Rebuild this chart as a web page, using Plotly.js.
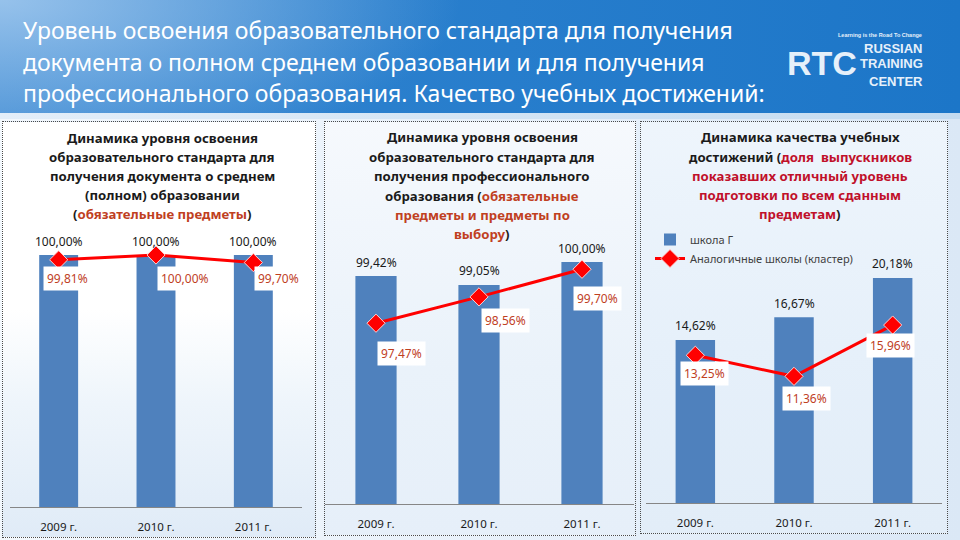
<!DOCTYPE html>
<html><head><meta charset="utf-8">
<script src="https://cdn.plot.ly/plotly-3.0.1.min.js"></script>
<style>
html,body{margin:0;padding:0;width:960px;height:540px;overflow:hidden;}
body{position:relative;background:linear-gradient(90deg,#f3f8fd 0%,#e7f0fa 60%,#dbe8f6 100%);}
#hdr{position:absolute;left:0;top:0;width:960px;height:113px;
 background:radial-gradient(ellipse 460px 170px at 0% 0%, rgba(160,200,238,0.9), rgba(160,200,238,0) 100%),
 linear-gradient(90deg,#3c89d2 0%,#2a7fcd 40%,#1c76c8 100%);}
#strip{position:absolute;left:0;top:113px;width:960px;height:6px;background:linear-gradient(90deg,#e3eef9,#c4dbf0);}
.panel{position:absolute;border:1px dotted #4a4a4a;box-sizing:border-box;}
#p1{left:2px;top:121px;width:314px;height:417px;background:linear-gradient(180deg,#ffffff 0%,#ffffff 45%,#eef5fb 68%,#e0ebf7 100%);}
#p2{left:324px;top:121px;width:312px;height:415px;background:linear-gradient(180deg,#f6f9fd 0%,#eaf2fa 60%,#e6eff9 100%);}
#p3{left:640px;top:121px;width:308px;height:413px;background:linear-gradient(180deg,#eef5fc 0%,#e6f0fa 55%,#e2edf8 100%);}
#chart{position:absolute;left:0;top:0;width:960px;height:540px;}
</style></head>
<body>
<div id="hdr"></div><div id="strip"></div>
<div class="panel" id="p1"></div><div class="panel" id="p2"></div><div class="panel" id="p3"></div>
<div id="chart"></div>
<script>
// ---- data ----
const years = ['2009 г.', '2010 г.', '2011 г.'];
const p1School = [100.00, 100.00, 100.00];
const p1Cluster = [99.81, 100.00, 99.70];
const p2School = [99.42, 99.05, 100.00];
const p2Cluster = [97.47, 98.56, 99.70];
const p3School = [14.62, 16.67, 20.18];
const p3Cluster = [13.25, 11.36, 15.96];
const seriesNames = ['школа Г', 'Аналогичные школы (кластер)'];
const headerLines = [
  'Уровень освоения образовательного стандарта для получения',
  'документа о полном среднем образовании и для получения',
  'профессионального образования. Качество учебных достижений:'
];

// ---- styles ----
const FONT = 'Noto Sans, DejaVu Sans, sans-serif';
const BAR = '#4f81bd';
const LINE = '#ff0000';
const RED1 = '#c0401f';
const RED3 = '#c0102a';
const fmt = v => v.toFixed(2).replace('.', ',') + '%';
const W = 960, H = 540;
const px = v => v / W, py = v => 1 - v / H;

const panels = [
  {school: p1School, cluster: p1Cluster, x0: 10, x1: 302, yb: 507, yt: 240, ymin: 90, ppu: 25.2,
   shifts: [[9, -19], [29, -23], [25, -16]]},
  {school: p2School, cluster: p2Cluster, x0: 324.5, x1: 633.5, yb: 504, yt: 250, ymin: 90, ppu: 24.2,
   shifts: [[25, -30], [26, -24], [15, -29]]},
  {school: p3School, cluster: p3Cluster, x0: 646, x1: 942, yb: 503, yt: 260, ymin: 0, ppu: 11.15,
   shifts: [[9, -18], [12, -22], [-2, -20]]}
];

const traces = [];
const annotations = [];
const layout = {
  width: W, height: H, margin: {l: 0, r: 0, t: 0, b: 0}, autosize: false,
  paper_bgcolor: 'rgba(0,0,0,0)', plot_bgcolor: 'rgba(0,0,0,0)',
  font: {family: FONT}, hovermode: false, showlegend: true,
  legend: {x: px(650), y: py(225), xanchor: 'left', yanchor: 'top', bgcolor: 'rgba(0,0,0,0)',
           font: {family: FONT, size: 11, color: '#404040'}, itemwidth: 30, traceorder: 'normal'},
  annotations: annotations
};

panels.forEach((p, i) => {
  const n = i === 0 ? '' : String(i + 1);
  const xa = 'x' + n, ya = 'y' + n;
  layout['xaxis' + n] = {
    domain: [px(p.x0), px(p.x1)], anchor: ya, type: 'category', range: [-0.5, 2.5],
    showline: true, linecolor: '#868686', linewidth: 1, showgrid: false, zeroline: false,
    ticks: 'outside', ticklen: 9, tickcolor: 'rgba(0,0,0,0)',
    tickfont: {family: FONT, size: 11.5, color: '#1a1a1a'}, fixedrange: true
  };
  layout['yaxis' + n] = {
    domain: [py(p.yb), py(p.yt)], anchor: xa, range: [p.ymin, p.ymin + (p.yb - p.yt) / p.ppu],
    visible: false, showgrid: false, zeroline: false, fixedrange: true
  };
  traces.push({
    type: 'bar', x: years, y: p.school, xaxis: xa, yaxis: ya, width: 0.4,
    marker: {color: BAR}, name: seriesNames[0], showlegend: i === 2, cliponaxis: false
  });
  traces.push({
    type: 'scatter', mode: 'lines+markers', x: years, y: p.cluster, xaxis: xa, yaxis: ya,
    line: {color: LINE, width: 3}, name: seriesNames[1], showlegend: i === 2, cliponaxis: false,
    marker: {symbol: 'diamond', size: 14, color: LINE, line: {color: '#ffd0d0', width: 1}}
  });
  years.forEach((yr, k) => {
    annotations.push({x: yr, y: p.school[k], xref: xa, yref: ya, yshift: 14, showarrow: false,
      text: fmt(p.school[k]), font: {family: FONT, size: 12, color: '#1a1a1a'}});
    annotations.push({x: yr, y: p.cluster[k], xref: xa, yref: ya, xshift: p.shifts[k][0], yshift: p.shifts[k][1],
      showarrow: false, text: fmt(p.cluster[k]), bgcolor: '#ffffff', borderpad: 3,
      font: {family: FONT, size: 12, color: RED1}});
  });
});

// panel titles
function titleLines(cx, ys, lines) {
  lines.forEach((t, j) => annotations.push({
    xref: 'paper', yref: 'paper', x: px(cx), y: py(ys[j]), xanchor: 'center', yanchor: 'middle',
    showarrow: false, text: t, font: {family: FONT, size: 13.2, color: '#1a1a1a', weight: 'bold'}
  }));
}
const r1 = s => '<span style="color:' + RED1 + '">' + s + '</span>';
const r3 = s => '<span style="color:' + RED3 + '">' + s + '</span>';
titleLines(162, [138, 157, 176, 195, 214], [
  'Динамика уровня освоения', 'образовательного стандарта для', 'получения документа о среднем',
  '(полном) образовании', '(' + r1('обязательные предметы') + ')']);
titleLines(482, [137, 157, 176, 196, 215, 234], [
  'Динамика уровня освоения', 'образовательного стандарта для', 'получения профессионального',
  'образования (' + r1('обязательные'), r1('предметы и предметы по'), r1('выбору') + ')']);
titleLines(800, [137, 157, 176, 195, 214], [
  'Динамика качества учебных', 'достижений (' + r3('доля \u00a0выпускников'), r3('показавших отличный уровень'),
  r3('подготовки по всем сданным'), r3('предметам') + ')']);

// header
headerLines.forEach((t, j) => annotations.push({
  xref: 'paper', yref: 'paper', x: px(21), y: py([30, 62, 93][j]), xanchor: 'left', yanchor: 'middle',
  showarrow: false, text: t, font: {family: FONT, size: 23, color: '#ffffff'}
}));
// logo
const LOGO = '#e6f0fa';
annotations.push({xref: 'paper', yref: 'paper', x: px(822), y: py(63), xanchor: 'center', yanchor: 'middle',
  showarrow: false, text: 'RTC', font: {family: 'Liberation Sans, sans-serif', size: 34, color: LOGO, weight: 'bold'}});
annotations.push({xref: 'paper', yref: 'paper', x: px(924), y: py(35), xanchor: 'right', yanchor: 'middle',
  showarrow: false, text: 'Learning is the Road To Change', font: {family: 'Liberation Sans, sans-serif', size: 5.5, color: LOGO, weight: 'bold'}});
[['RUSSIAN', 48], ['TRAINING', 64], ['CENTER', 81]].forEach(([t, y]) => annotations.push({
  xref: 'paper', yref: 'paper', x: px(925), y: py(y), xanchor: 'right', yanchor: 'middle',
  showarrow: false, text: t, font: {family: 'Liberation Sans, sans-serif', size: 13, color: LOGO, weight: 'bold'}}));

Plotly.newPlot('chart', traces, layout, {staticPlot: true, displayModeBar: false});
</script>
</body></html>
